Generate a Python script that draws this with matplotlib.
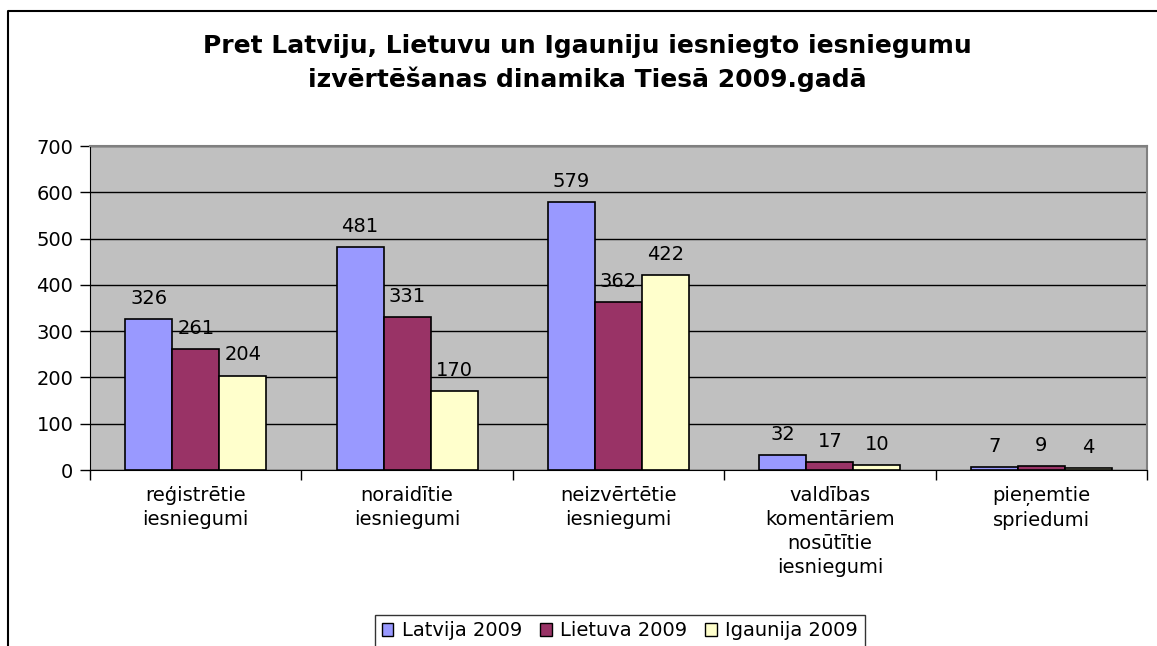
import numpy as np
import matplotlib.pyplot as plt
from matplotlib.lines import Line2D
from matplotlib.patches import Patch

plt.rcParams['font.family'] = ['DejaVu Sans']

categories = ["reģistrētie\niesniegumi", "noraidītie\niesniegumi", "neizvērtētie\niesniegumi",
              "valdības\nkomentāriem\nnosūtītie\niesniegumi", "pieņemtie\nspriedumi"]
series_names = ["Latvija 2009", "Lietuva 2009", "Igaunija 2009"]
latvija = [326, 481, 579, 32, 7]
lietuva = [261, 331, 362, 17, 9]
igaunija = [204, 170, 422, 10, 4]
colors = ["#9999FF", "#993366", "#FFFFCC"]

W, H = 1157, 646
fig = plt.figure(figsize=(W / 100, H / 100), dpi=100)
ax = fig.add_axes([90 / W, 1 - 470 / H, (1147 - 90) / W, (470 - 146) / H])
ax.set_facecolor("#C0C0C0")

x = np.arange(len(categories))
w = 1 / 4.5
for i, (vals, c) in enumerate(zip([latvija, lietuva, igaunija], colors)):
    pos = x + (i - 1) * w
    ax.bar(pos, vals, width=w, color=c, edgecolor="black", linewidth=1.2, zorder=3)
    for p, v in zip(pos, vals):
        ax.annotate(str(v), (p, v), xytext=(0, 8), textcoords="offset points",
                    ha="center", va="bottom", fontsize=14)

ax.set_xlim(-0.5, len(categories) - 0.5)
ax.set_ylim(0, 700)
ax.set_yticks(range(0, 701, 100))
ax.tick_params(axis="y", labelsize=14, length=7, width=1, direction="out", pad=5)
ax.yaxis.grid(True, color="black", linewidth=1)
ax.set_axisbelow(True)

# category ticks between groups, labels centred below
ax.set_xticks(np.arange(-0.5, len(categories), 1))
ax.set_xticklabels([])
ax.tick_params(axis="x", length=7, width=1, direction="out")
for xi, lab in zip(x, categories):
    ax.text(xi, -0.05, lab, transform=ax.get_xaxis_transform(), ha="center", va="top",
            fontsize=14, linespacing=1.32)

for s in ["top", "right"]:
    ax.spines[s].set_color("#808080")
    ax.spines[s].set_linewidth(1.5)
ax.spines["left"].set_color("black")
ax.spines["bottom"].set_color("black")

fig.text(587 / W, 1 - 63 / H,
         "Pret Latviju, Lietuvu un Igauniju iesniegto iesniegumu\nizvērtēšanas dinamika Tiesā 2009.gadā",
         ha="center", va="center", fontsize=18, fontweight="bold", linespacing=1.42)

# outer chart border
fig.add_artist(Line2D([8 / W, 8 / W, 1.0], [0.0, 1 - 11 / H, 1 - 11 / H],
                      transform=fig.transFigure, color="black", linewidth=1.5))

handles = [Patch(facecolor=c, edgecolor="black", label=n) for c, n in zip(colors, series_names)]
leg = fig.legend(handles=handles, loc="center", bbox_to_anchor=(620 / W, 1 - 631 / H),
                 ncol=3, fontsize=14, frameon=True, fancybox=False, handlelength=0.6,
                 handleheight=0.6, handletextpad=0.45, columnspacing=0.9, borderpad=0.35)
leg.get_frame().set_edgecolor("black")
leg.get_frame().set_linewidth(1)

fig.savefig("out.png", dpi=100)
